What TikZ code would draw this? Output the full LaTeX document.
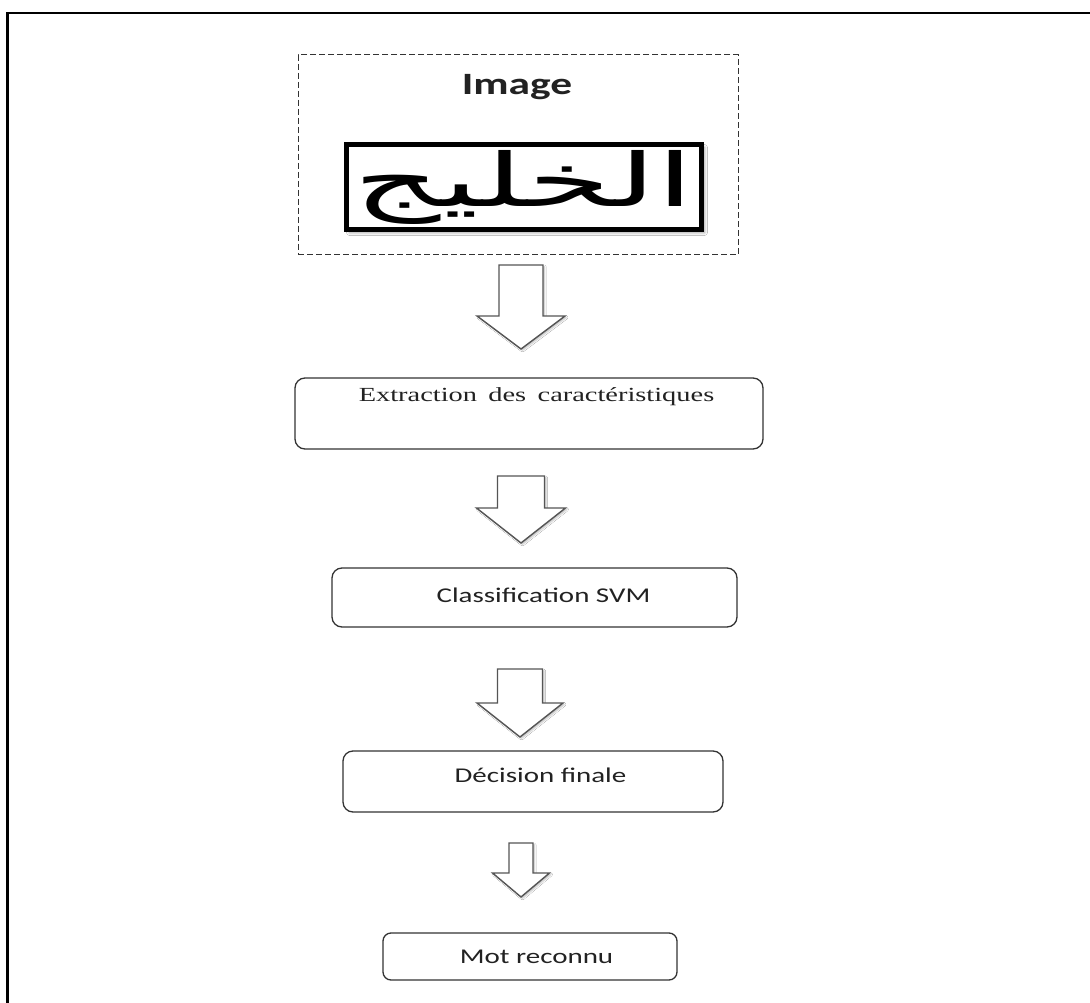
\documentclass[tikz,border=0pt]{standalone}
\usepackage{fontspec}
\usepackage{graphicx}
\usetikzlibrary{shadows.blur}
\TeXXeTstate=1
\setmainfont{Liberation Serif}
\newfontfamily\calibri[FakeStretch=1.38]{Carlito}
\newfontfamily\calibrititle[FakeStretch=1.40]{Carlito}
\newfontfamily\serifwide[FakeStretch=1.42,WordSpace=1.6]{Liberation Serif}
\newfontfamily\arabicfont[Script=Arabic]{DejaVu Sans}
\definecolor{ink}{HTML}{222222}
\definecolor{edge}{HTML}{333333}
\definecolor{arrowedge}{HTML}{555555}
\newcommand\blockarr[6]{%
  \draw[blockarrow] ({#1-#3},#2) -- ({#1+#3},#2) -- ({#1+#3},#4) -- ({#1+#5},#4)
    -- (#1,#6) -- ({#1-#5},#4) -- ({#1-#3},#4) -- cycle;}
\begin{document}
\begin{tikzpicture}[x=1pt,y=-1pt,
  procbox/.style={draw=edge, line width=1.3pt, rounded corners=10pt, inner sep=0pt, text=ink},
  calibritext/.style={font=\calibri\fontsize{21}{21}\selectfont},
  blockarrow/.style={draw=arrowedge, line width=1.4pt, fill=white, line join=miter,
    blur shadow={shadow xshift=1.5pt, shadow yshift=-1.5pt, shadow blur radius=1.5pt, shadow opacity=25}}]
\useasboundingbox (0,0) rectangle (1090,1003);
\fill[white] (0,0) rectangle (1090,1003);
% outer frame (top and left edges)
\draw[line width=2pt] (6,13.5) -- (1090,13.5);
\draw[line width=3pt] (7.5,12.5) -- (7.5,1003);

% image group
\node[draw=edge, line width=1pt, dash pattern=on 6pt off 3pt, minimum width=440pt, minimum height=200pt, inner sep=0pt] (imgbox) at (518,155) {};
\node[font=\calibrititle\bfseries\fontsize{31}{31}\selectfont, text=ink, anchor=base, inner sep=0pt] (title) at (517,95) {Image};
\node[draw=black, line width=5pt, minimum width=355pt, minimum height=85pt, inner sep=0pt, fill=white,
  blur shadow={shadow xshift=3pt, shadow yshift=-3pt, shadow blur radius=3pt}] (frame) at (524,187)
  {\resizebox*{340pt}{74pt}{\arabicfont\beginR الخليج\endR}};

% arrows
\coordinate (a1) at (521,265);
\blockarr{521}{265}{22}{316}{44}{349}
\coordinate (a2) at (521,476);
\blockarr{521}{476}{23.5}{508}{44.5}{543}
\coordinate (a3) at (520,669);
\blockarr{520}{669}{22.5}{703}{43}{737}
\coordinate (a4) at (521,843);
\blockarr{521}{843}{12}{873}{28.5}{897}

% process boxes
\node[procbox, minimum width=468pt, minimum height=71pt, font=\serifwide\fontsize{20}{20}\selectfont,
  text height=14pt, text depth=37.6pt] (extr) at (529,413.5) {\hspace*{15pt}Extraction des caractéristiques};
\node[procbox, calibritext, minimum width=405pt, minimum height=59pt,
  text height=14pt, text depth=5pt] (svm) at (534.5,597.5) {\hspace*{18pt}Classification SVM};
\node[procbox, calibritext, minimum width=380pt, minimum height=61pt,
  text height=14pt, text depth=12pt] (dec) at (533,781.5) {\hspace*{15pt}Décision finale};
\node[procbox, calibritext, rounded corners=8pt, minimum width=294pt, minimum height=47pt,
  text height=14pt, text depth=0pt] (mot) at (530,956.5) {\hspace*{13pt}Mot reconnu};
\end{tikzpicture}
\end{document}
